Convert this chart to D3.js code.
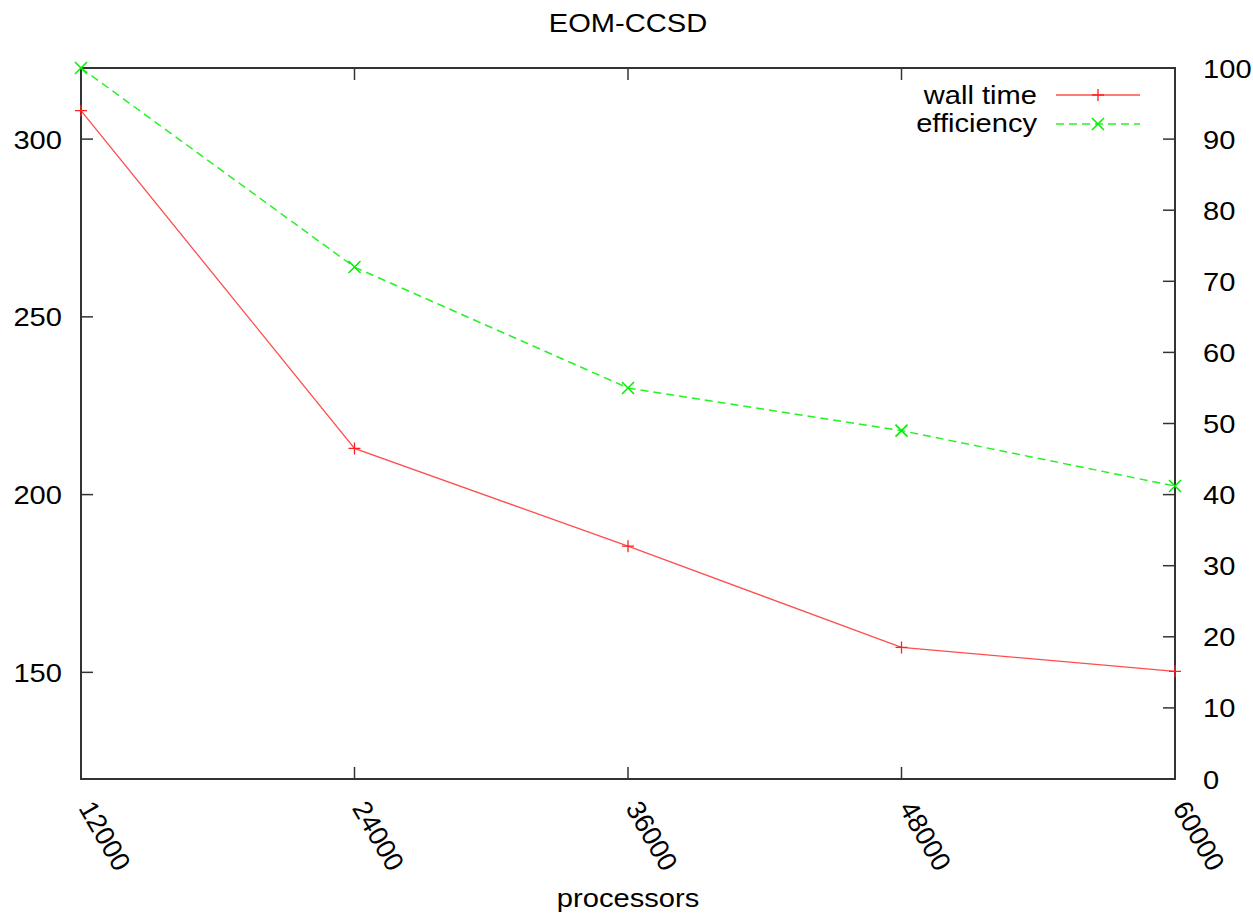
<!DOCTYPE html>
<html><head><meta charset="utf-8">
<script src="https://cdn.jsdelivr.net/npm/d3@7"></script>
<style>body{margin:0;background:#fff}svg{display:block}text{font-family:"Liberation Sans",Arial,sans-serif;fill:#000}</style>
</head><body>
<script>
const processors = [12000, 24000, 36000, 48000, 60000];
const wallTime = [308, 213, 185.5, 157, 150.3];
const efficiency = [100, 72, 55, 49, 41.2];
const xTicks = [12000, 24000, 36000, 48000, 60000];
const yLeftTicks = [150, 200, 250, 300];
const yRightTicks = [0, 10, 20, 30, 40, 50, 60, 70, 80, 90, 100];
const seriesNames = ["wall time", "efficiency"];
const titleText = "EOM-CCSD";
const xLabelText = "processors";

const W = 1253, H = 917;
const L = 81, R = 1175, T = 68, B = 779;
const FS = 26, SX = 1.12;

const svg = d3.select("body").append("svg").attr("width", W).attr("height", H);
const x = d3.scaleLinear().domain([12000, 60000]).range([L, R]);
const yL = d3.scaleLinear().domain([120, 320]).range([B, T]);
const yR = d3.scaleLinear().domain([0, 100]).range([B, T]);

function htext(str, px, py, anchor) {
  svg.append("text").attr("transform", `translate(${px},${py}) scale(${SX},1)`)
    .attr("text-anchor", anchor).attr("font-size", FS).text(str);
}

const axisColor = "#333";
const tl = 12;
// ticks
xTicks.forEach(v => {
  svg.append("line").attr("x1", x(v)).attr("x2", x(v)).attr("y1", B).attr("y2", B - tl).attr("stroke", axisColor).attr("stroke-width", 1.5);
  svg.append("line").attr("x1", x(v)).attr("x2", x(v)).attr("y1", T).attr("y2", T + tl).attr("stroke", axisColor).attr("stroke-width", 1.5);
  svg.append("text").attr("transform", `translate(${x(v) - 3},808) rotate(60)`)
    .attr("font-size", 27).attr("text-anchor", "start").text(v);
});
yLeftTicks.forEach(v => {
  svg.append("line").attr("x1", L).attr("x2", L + tl).attr("y1", yL(v)).attr("y2", yL(v)).attr("stroke", axisColor).attr("stroke-width", 1.5);
  htext(v, 62, yL(v) + 9.5, "end");
});
yRightTicks.forEach(v => {
  svg.append("line").attr("x1", R).attr("x2", R - tl).attr("y1", yR(v)).attr("y2", yR(v)).attr("stroke", axisColor).attr("stroke-width", 1.5);
  htext(v, 1203, yR(v) + 9.5, "start");
});
// frame
svg.append("rect").attr("x", L).attr("y", T).attr("width", R - L).attr("height", B - T)
  .attr("fill", "none").attr("stroke", axisColor).attr("stroke-width", 2);

// titles
htext(titleText, 628, 32, "middle");
htext(xLabelText, 628, 907, "middle");

const red = "#ff2020", green = "#00ee00";
const lineRed = d3.line().x((d, i) => x(processors[i])).y(d => yL(d));
const lineGreen = d3.line().x((d, i) => x(processors[i])).y(d => yR(d));
svg.append("path").attr("d", lineRed(wallTime)).attr("fill", "none").attr("stroke", red).attr("stroke-width", 1.3).attr("stroke-opacity", 0.8);
svg.append("path").attr("d", lineGreen(efficiency)).attr("fill", "none").attr("stroke", green).attr("stroke-width", 1.5).attr("stroke-dasharray", "8,5").attr("stroke-opacity", 0.85);

const ms = 6;
function plus(cx, cy, c) {
  svg.append("path").attr("d", `M${cx - ms},${cy}H${cx + ms}M${cx},${cy - ms}V${cy + ms}`).attr("stroke", c).attr("stroke-width", 1.3).attr("fill", "none");
}
function cross(cx, cy, c) {
  svg.append("path").attr("d", `M${cx - ms},${cy - ms}L${cx + ms},${cy + ms}M${cx - ms},${cy + ms}L${cx + ms},${cy - ms}`).attr("stroke", c).attr("stroke-width", 1.5).attr("fill", "none");
}
wallTime.forEach((d, i) => plus(x(processors[i]), yL(d), red));
efficiency.forEach((d, i) => cross(x(processors[i]), yR(d), green));

// legend
const lx1 = 1056, lx2 = 1140, lm = 1098;
htext(seriesNames[0], 1037, 104, "end");
svg.append("line").attr("x1", lx1).attr("x2", lx2).attr("y1", 95).attr("y2", 95).attr("stroke", red).attr("stroke-width", 1.3).attr("stroke-opacity", 0.8);
plus(lm, 95, red);
htext(seriesNames[1], 1037, 132, "end");
svg.append("line").attr("x1", lx1).attr("x2", lx2).attr("y1", 124).attr("y2", 124).attr("stroke", green).attr("stroke-width", 1.5).attr("stroke-dasharray", "8,5").attr("stroke-opacity", 0.85);
cross(lm, 124, green);
</script>
</body></html>
